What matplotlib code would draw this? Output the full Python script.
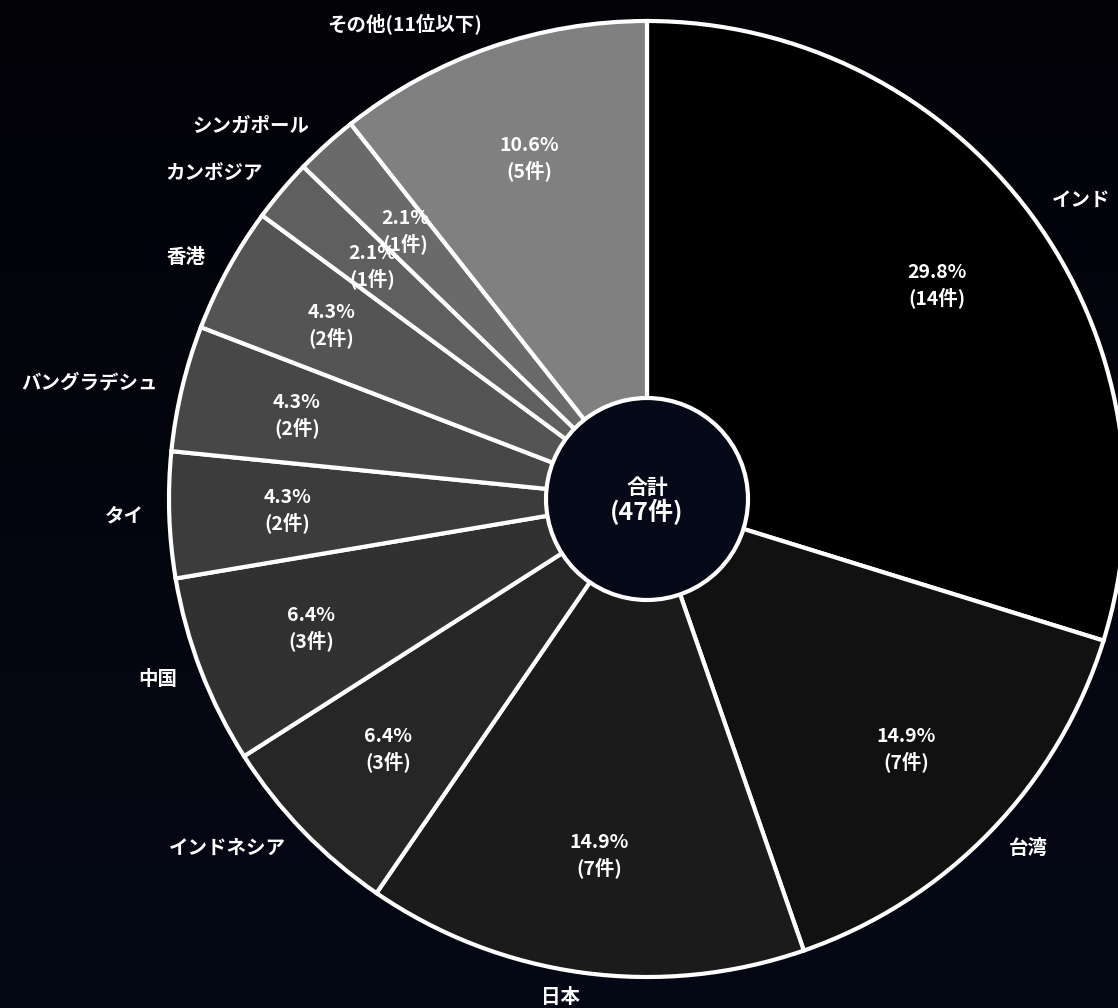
import numpy as np
import matplotlib.pyplot as plt
from matplotlib.patches import Circle
from matplotlib.colors import LinearSegmentedColormap

plt.rcParams['font.family'] = ['Noto Sans CJK JP', 'DejaVu Sans']

# データ (件数)
countries = ['インド', '台湾', '日本', 'インドネシア', '中国', 'タイ',
             'バングラデシュ', '香港', 'カンボジア', 'シンガポール', 'その他(11位以下)']
counts = [14, 7, 7, 3, 3, 2, 2, 2, 1, 1, 5]
colors = ['#000000', '#111111', '#1b1b1b', '#262626', '#313131', '#3c3c3c',
          '#474747', '#545454', '#5f5f5f', '#6a6a6a', '#808080']
total = sum(counts)

W, H = 1118, 1008
cx, cy = 647, H - 499
R = 478
r_hole = 101

fig = plt.figure(figsize=(W / 100, H / 100), dpi=100)
fig.patch.set_facecolor('#03040a')

# 背景 (ほぼ黒、下に向かって少し紺色)
bg = fig.add_axes([0, 0, 1, 1])
grad = np.linspace(0, 1, 256)[:, None]
bg.imshow(grad, aspect='auto',
          cmap=LinearSegmentedColormap.from_list('bg', ['#020207', '#050916']),
          extent=[0, 1, 0, 1])
bg.axis('off')

ax = fig.add_axes([0, 0, 1, 1])
ax.patch.set_alpha(0)


def fmt(pct):
    n = int(round(pct * total / 100))
    return f'{pct:.1f}%\n({n}件)'


wedges, labels, pcts = ax.pie(
    counts, colors=colors, labels=countries, autopct=fmt,
    startangle=90, counterclock=False, center=(cx, cy), radius=R,
    labeldistance=503 / R, pctdistance=360 / R,
    wedgeprops=dict(edgecolor='white', linewidth=3),
    textprops=dict(color='white', fontsize=14, fontweight='bold'))

ax.set_xlim(0, W)
ax.set_ylim(0, H)
ax.set_aspect('equal')
ax.axis('off')

# ラベルの左右寄せを円の中心基準に直す
for w, lab in zip(wedges, labels):
    mid = np.deg2rad((w.theta1 + w.theta2) / 2)
    lab.set_ha('left' if np.cos(mid) > 0 else 'right')

for t in pcts:
    t.set_fontsize(14)
    t.set_fontweight('semibold')
    t.set_linespacing(1.3)

ax.add_patch(Circle((cx, cy), r_hole, facecolor='#060a18', edgecolor='white',
                    linewidth=3, zorder=5))
ax.text(cx, H - 487, '合計', color='white', fontsize=15, fontweight='bold',
        ha='center', va='center', zorder=6)
ax.text(cx, H - 512, f'({total}件)', color='white', fontsize=18, fontweight='bold',
        ha='center', va='center', zorder=6)

plt.savefig('out.png', dpi=100, facecolor=fig.get_facecolor())
